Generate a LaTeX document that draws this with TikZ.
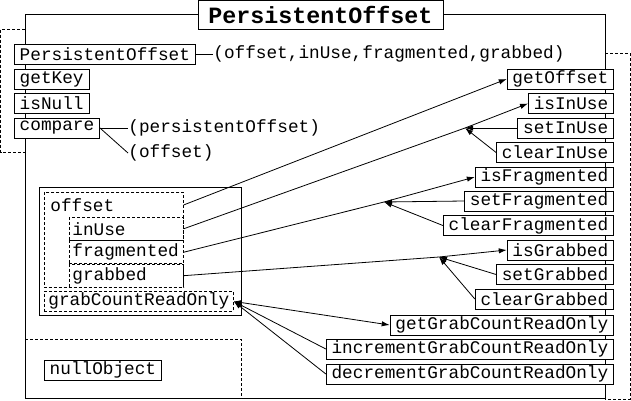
\documentclass[tikz,border=0pt]{standalone}
\usepackage{fontspec}
\setmonofont{Liberation Mono}
\usetikzlibrary{arrows.meta}
\begin{document}
\begin{tikzpicture}[x=0.75pt,y=-0.75pt,line width=0.6pt,>={Latex[length=6pt,width=4pt]},
  font=\ttfamily\fontsize{13.3}{15}\selectfont,
  dashes/.style={dash pattern=on 2.25pt off 1.5pt},
  method/.style={draw,fill=white,inner xsep=4pt,inner ysep=0pt,minimum height=15pt},
  field/.style={draw,dashes,anchor=north west,align=left,inner xsep=2.25pt,inner ysep=0pt,text width=81pt,minimum height=17pt},
  arglist/.style={inner sep=0pt,anchor=west}]
\useasboundingbox (0,0) rectangle (631,400);
% class frame
\node[draw,fill=white,minimum width=183.75pt,minimum height=21.75pt,font=\ttfamily\bfseries\fontsize{17.5}{20}\selectfont] (title) at (320.5,14.5) {PersistentOffset};
\draw (title.west) -| (25,398) -- (605,398) |- (title.east);
\draw[dashes] (25,29) -- (0.5,29) -- (0.5,152) -- (25,152);
\draw[dashes] (605,53) -- (630,53) -- (630,399) -- (605,399);
\draw[dashes] (25,339) -- (241,339) -- (241,398);
% left methods
\node[method,anchor=west] (ctor) at (14,54) {PersistentOffset};
\node[method,anchor=west] (getkey) at (14,79) {getKey};
\node[method,anchor=west] (isnull) at (14,103.5) {isNull};
\node[method,anchor=west] (compare) at (14,128) {compare};
\node[arglist] (ctorargs) at (213,54) {(offset,inUse,fragmented,grabbed)};
\node[arglist] (cmparg1) at (128,128) {(persistentOffset)};
\node[arglist] (cmparg2) at (128,153) {(offset)};
\draw (ctor.east) -- (ctorargs.west);
\draw (compare.east) -- (cmparg1.west);
\draw (compare.east) -- (cmparg2.west);
% fields
\draw (39,187) rectangle (241,315);
\node[anchor=north west,align=left,inner xsep=4.5pt,inner ysep=0pt,text width=95.25pt,minimum height=18.75pt] (offset) at (44,192) {offset};
\node[field] (inuse) at (69,217) {inUse};
\node[field] (fragmented) at (inuse.south west) {fragmented};
\node[field] (grabbed) at (fragmented.south west) {grabbed};
\draw[dashes] (offset.north west) rectangle (grabbed.south east);
\node[draw,dashes,anchor=north west,inner xsep=3pt,inner ysep=0pt,minimum height=15pt] (grabcount) at (44,291) {grabCountReadOnly};
\node[method,anchor=north west] (nullobj) at (44,360) {nullObject};
% right methods
\node[method,anchor=east] (getoffset) at (614,79) {getOffset};
\node[method,anchor=east] (isinuse) at (614,103.5) {isInUse};
\node[method,anchor=east] (setinuse) at (614,128) {setInUse};
\node[method,anchor=east] (clearinuse) at (614,152.5) {clearInUse};
\node[method,anchor=east] (isfrag) at (614,177) {isFragmented};
\node[method,anchor=east] (setfrag) at (614,201) {setFragmented};
\node[method,anchor=east] (clearfrag) at (614,225.5) {clearFragmented};
\node[method,anchor=east] (isgrab) at (614,250) {isGrabbed};
\node[method,anchor=east] (setgrab) at (614,274.5) {setGrabbed};
\node[method,anchor=east] (cleargrab) at (614,299) {clearGrabbed};
\node[method,anchor=east] (getgrabcount) at (614,325) {getGrabCountReadOnly};
\node[method,anchor=east] (incgrabcount) at (614,349) {incrementGrabCountReadOnly};
\node[method,anchor=east] (decgrabcount) at (614,374) {decrementGrabCountReadOnly};
% accessors
\coordinate (jinuse) at (465,128);
\coordinate (jfrag) at (384,202);
\coordinate (jgrab) at (439,257);
\draw[->] (offset.east) -- (getoffset.west);
\draw (inuse.east) -- (jinuse);
\draw[->] (jinuse) -- (isinuse.west);
\draw[->] (setinuse.west) -- (jinuse);
\draw[->] (clearinuse.west) -- (jinuse);
\draw (fragmented.east) -- (jfrag);
\draw[->] (jfrag) -- (isfrag.west);
\draw[->] (setfrag.west) -- (jfrag);
\draw[->] (clearfrag.west) -- (jfrag);
\draw (grabbed.east) -- (jgrab);
\draw[->] (jgrab) -- (isgrab.west);
\draw[->] (setgrab.west) -- (jgrab);
\draw[->] (cleargrab.west) -- (jgrab);
\draw[<->] (grabcount.east) -- (getgrabcount.west);
\draw[->] (incgrabcount.west) -- (grabcount.east);
\draw[->] (decgrabcount.west) -- (grabcount.east);
\end{tikzpicture}
\end{document}
